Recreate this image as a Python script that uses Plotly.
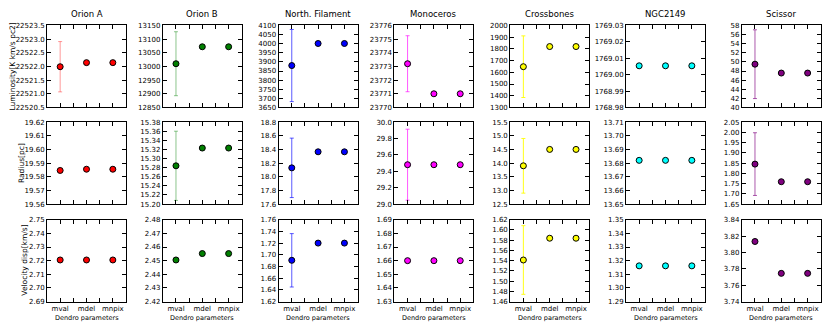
import plotly.graph_objects as go
from plotly.subplots import make_subplots

# regions / colours
regions = ["Orion A", "Orion B", "North. Filament", "Monoceros", "Crossbones", "NGC2149", "Scissor"]
colors = ["#ff0000", "#008000", "#0000ff", "#ff00ff", "#ffff00", "#00ffff", "#800080"]
err_colors = ["rgba(255,0,0,0.4)", "rgba(0,128,0,0.45)", "rgba(0,0,255,0.65)", "rgba(255,0,255,0.65)",
              "rgba(255,255,0,0.9)", "rgba(0,255,255,0.6)", "rgba(128,0,128,0.65)"]
params = ["mval", "mdel", "mnpix"]

# luminosity per region (mval, mdel, mnpix), error only on mval
lum_orion_a = [22521.99, 22522.14, 22522.14]
lum_orion_b = [13010, 13072, 13072]
lum_north = [3880, 4001, 4001]
lum_mono = [23773.2, 23771.0, 23771.0]
lum_cross = [1648, 1820, 1820]
lum_ngc = [1769.0054, 1769.0054, 1769.0054]
lum_scissor = [49.5, 47.55, 47.55]
lum_err = [0.92, 117, 198, 2.05, 263, 0.0, 7.55]

# radius
rad_orion_a = [19.5846, 19.5855, 19.5855]
rad_orion_b = [15.284, 15.323, 15.323]
rad_north = [18.13, 18.365, 18.365]
rad_mono = [29.48, 29.48, 29.48]
rad_cross = [13.9, 14.5, 14.5]
rad_ngc = [13.682, 13.682, 13.682]
rad_scissor = [1.845, 1.759, 1.759]
rad_err = [0.0, 0.076, 0.435, 0.433, 1.0, 0.0, 0.153]

# velocity dispersion
vel_orion_a = [2.7205, 2.7205, 2.7205]
vel_orion_b = [2.4505, 2.4552, 2.4552]
vel_north = [1.6906, 1.72, 1.72]
vel_mono = [1.66, 1.66, 1.66]
vel_cross = [1.5413, 1.5838, 1.5838]
vel_ngc = [1.3162, 1.3162, 1.3162]
vel_scissor = [3.8134, 3.7745, 3.7745]
vel_err = [0.0, 0.0, 0.0456, 0.0, 0.067, 0.0, 0.0]

lum = [lum_orion_a, lum_orion_b, lum_north, lum_mono, lum_cross, lum_ngc, lum_scissor]
rad = [rad_orion_a, rad_orion_b, rad_north, rad_mono, rad_cross, rad_ngc, rad_scissor]
vel = [vel_orion_a, vel_orion_b, vel_north, vel_mono, vel_cross, vel_ngc, vel_scissor]
rows = [(lum, lum_err), (rad, rad_err), (vel, vel_err)]
row_labels = ["Luminosity[K km/s pc2]", "Radius[pc]", "Velocity disp[km/s]"]

# axis ranges (lo, hi, dtick, format)
axes = [
    [(22520.5, 22523.5, 0.5, ".1f"), (12850, 13150, 50, "d"), (3650, 4100, 50, "d"), (23770, 23776, 1, "d"),
     (1300, 2000, 100, "d"), (1768.98, 1769.03, 0.01, ".2f"), (40, 58, 2, "d")],
    [(19.56, 19.62, 0.01, ".2f"), (15.20, 15.38, 0.02, ".2f"), (17.6, 18.8, 0.2, ".1f"), (29.0, 30.0, 0.2, ".1f"),
     (12.5, 15.5, 0.5, ".1f"), (13.65, 13.71, 0.01, ".2f"), (1.65, 2.05, 0.05, ".2f")],
    [(2.69, 2.75, 0.01, ".2f"), (2.42, 2.48, 0.01, ".2f"), (1.62, 1.76, 0.02, ".2f"), (1.63, 1.69, 0.01, ".2f"),
     (1.46, 1.62, 0.02, ".2f"), (1.29, 1.35, 0.01, ".2f"), (3.74, 3.84, 0.02, ".2f")],
]

W, H = 830, 332
col_left = [47 + i * 115.8 for i in range(7)]
row_top = [22, 121, 221]
pw, ph = 79, 84
font = "DejaVu Sans"

fig = make_subplots(rows=3, cols=7)

for r, (vals, errs) in enumerate(rows):
    for c in range(7):
        fig.add_trace(go.Scatter(
            x=[0, 1, 2], y=vals[c], mode="markers",
            marker=dict(color=colors[c], size=6, line=dict(color="black", width=1)),
            error_y=dict(type="data", array=[errs[c], 0, 0], color=err_colors[c], thickness=1, width=2),
            showlegend=False), row=r + 1, col=c + 1)
        n = r * 7 + c + 1
        lo, hi, dt, fmt = axes[r][c]
        x0 = col_left[c] / W
        y1 = 1 - row_top[r] / H
        fig.update_layout(**{
            f"xaxis{n if n > 1 else ''}": dict(
                domain=[x0, (col_left[c] + pw) / W], range=[-0.5, 2.5],
                tickvals=[0, 0.5, 1, 1.5, 2],
                ticktext=params[:1] + [""] + params[1:2] + [""] + params[2:] if r == 2 else [""] * 5,
                ticks="inside", ticklen=4, tickcolor="black", mirror="allticks",
                showline=True, linecolor="black", linewidth=1, showgrid=False, zeroline=False,
                tickfont=dict(size=7, family=font, color="black")),
            f"yaxis{n if n > 1 else ''}": dict(
                domain=[1 - (row_top[r] + ph) / H, y1], range=[lo, hi], dtick=dt, tick0=lo,
                tickformat=fmt, ticks="inside", ticklen=4, tickcolor="black", mirror="allticks",
                showline=True, linecolor="black", linewidth=1, showgrid=False, zeroline=False,
                tickfont=dict(size=7, family=font, color="black")),
        })

ann = []
for c in range(7):
    xc = (col_left[c] + pw / 2) / W
    ann.append(dict(text=regions[c], x=xc, y=1 - 10 / H, xref="paper", yref="paper",
                    xanchor="center", yanchor="middle",
                    showarrow=False, font=dict(size=8.5, family=font, color="black")))
    ann.append(dict(text="Dendro parameters", x=xc, y=1 - 322 / H, xref="paper", yref="paper",
                    xanchor="center", yanchor="middle",
                    showarrow=False, font=dict(size=6.5, family=font, color="black")))
label_x = [12, 21, 25]
for r in range(3):
    ann.append(dict(text=row_labels[r], x=label_x[r] / W, y=1 - (row_top[r] + ph / 2) / H,
                    xref="paper", yref="paper", xanchor="center", yanchor="middle",
                    textangle=-90, showarrow=False,
                    font=dict(size=7.5, family=font, color="black")))

fig.update_layout(width=W, height=H, margin=dict(l=0, r=0, t=0, b=0),
                  plot_bgcolor="white", paper_bgcolor="white", annotations=ann,
                  font=dict(family=font, color="black"))

# drop the browser's default body margin so the figure sits at the page corner
fig.write_html("out.html", config={"displayModeBar": False},
               post_script="document.body.style.margin='0';")
